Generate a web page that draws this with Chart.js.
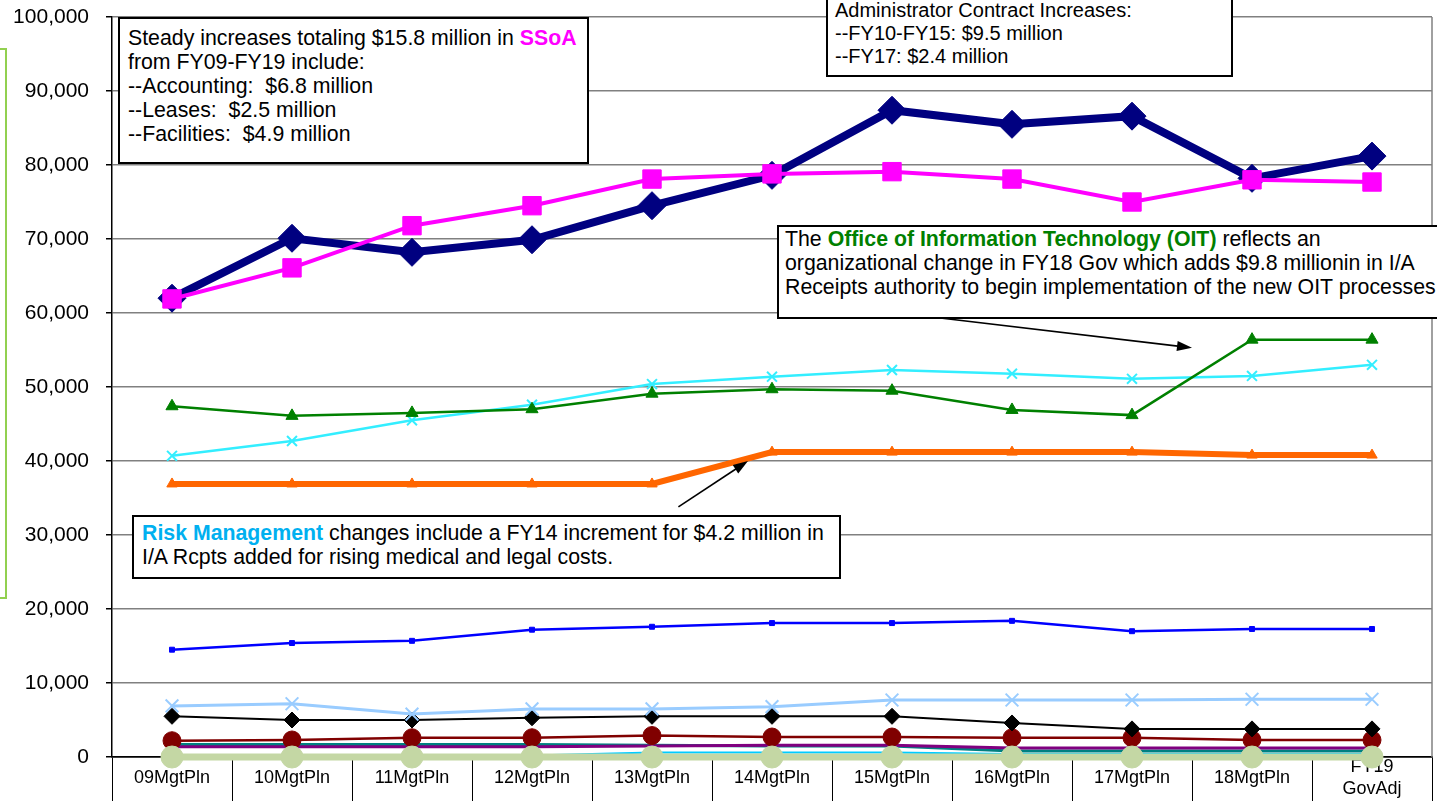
<!DOCTYPE html>
<html>
<head>
<meta charset="utf-8">
<script src="https://cdn.jsdelivr.net/npm/chart.js@4/dist/chart.umd.min.js"></script>
<style>
  html, body { margin: 0; padding: 0; background: #fff; overflow: hidden; }
  #wrap { position: relative; width: 1437px; height: 801px; overflow: hidden; }
  canvas { position: absolute; left: 0; top: 0; }
  .note {
    position: absolute; background: #fff; border: 2px solid #000;
    font-family: "Liberation Sans", Arial, sans-serif; font-size: 21.3px;
    line-height: 24px; color: #000; white-space: nowrap; box-sizing: border-box;
  }
  .side { position: absolute; left: -200px; top: 48px; width: 207px; height: 551px;
    border: 2px solid #92d050; box-sizing: border-box; }
</style>
</head>
<body>
<div id="wrap">
  <canvas id="myChart" width="1437" height="801"></canvas>
  <div class="side"></div>
  <div class="note" style="left:118px; top:17px; width:471px; height:147px; padding:7px 0 0 8px;">
    Steady increases totaling $15.8 million in <b style="color:#ff00ff">SSoA</b><br>
    from FY09-FY19 include:<br>
    --Accounting:&nbsp; $6.8 million<br>
    --Leases:&nbsp; $2.5 million<br>
    --Facilities:&nbsp; $4.9 million
  </div>
  <div class="note" style="left:826px; top:-12px; width:407px; height:89px; padding:9px 0 0 7px; line-height:23px; font-size:20px;">
    Administrator Contract Increases:<br>
    --FY10-FY15: $9.5 million<br>
    --FY17: $2.4 million
  </div>
  <div class="note" style="left:777px; top:225px; width:700px; height:94px; padding:0 0 0 6px;">
    The <b style="color:#008000">Office of Information Technology (OIT)</b> reflects an<br>
    organizational change in FY18 Gov which adds $9.8 millionin in I/A<br>
    Receipts authority to begin implementation of the new OIT processes.
  </div>
  <div class="note" style="left:132px; top:515px; width:709px; height:64px; padding:4px 0 0 8px;">
    <b style="color:#00b0f0">Risk Management</b> changes include a FY14 increment for $4.2 million in<br>
    I/A Rcpts added for rising medical and legal costs.
  </div>
</div>
<script>
const labels = ['09MgtPln', '10MgtPln', '11MgtPln', '12MgtPln', '13MgtPln', '14MgtPln',
    '15MgtPln', '16MgtPln', '17MgtPln', '18MgtPln', ['FY19', 'GovAdj']];

// values in thousands of dollars
const navyVals    = [62000, 70100, 68200, 69900, 74500, 78600, 87400, 85500, 86600, 78200, 81200];
const ssoaVals    = [61900, 66100, 71800, 74500, 78100, 78800, 79100, 78100, 75000, 78000, 77700];
const oitVals     = [47400, 46100, 46500, 47000, 49100, 49700, 49500, 46900, 46200, 56400, 56400];
const cyanXVals   = [40700, 42700, 45500, 47600, 50400, 51400, 52300, 51800, 51100, 51500, 53000];
const riskVals    = [36900, 36900, 36900, 36900, 36900, 41200, 41200, 41200, 41200, 40800, 40800];
const blueVals    = [14500, 15400, 15700, 17200, 17600, 18100, 18100, 18400, 17000, 17300, 17300];
const ltBlueVals  = [6900, 7200, 5800, 6500, 6500, 6800, 7700, 7700, 7700, 7800, 7800];
const blackVals   = [5500, 5000, 5000, 5300, 5500, 5500, 5500, 4600, 3800, 3800, 3800];
const redVals     = [2200, 2300, 2600, 2600, 2900, 2700, 2700, 2600, 2600, 2300, 2300];
const tealVals    = [1700, 1700, 1700, 1700, 1600, 1500, 1500, 800, 800, 800, 800];
const purpleVals  = [1400, 1400, 1400, 1400, 1500, 1600, 1600, 1200, 1200, 1200, 1200];
const ltCyanVals  = [200, 200, 200, 200, 600, 600, 600, 400, 400, 400, 400];
const sageVals    = [0, 0, 0, 0, 0, 0, 0, 0, 0, 0, 0];

function line(data, color, width, style, radius, extra) {
    return Object.assign({
        data: data,
        borderColor: color,
        backgroundColor: color,
        borderWidth: width,
        pointStyle: style,
        pointRadius: radius,
        pointBorderColor: color,
        pointBackgroundColor: color,
        pointBorderWidth: 1,
        tension: 0,
        clip: false,
        fill: false
    }, extra || {});
}

// the arrows from the notes to the lines
const arrowPlugin = {
    id: 'arrows',
    afterDatasetsDraw(chart) {
        const ctx = chart.ctx;
        const x = chart.scales.x, y = chart.scales.y;
        const arrows = [
            [4.22, 33800, 4.8, 40000],
            [6.42, 59300, 8.5, 55300]
        ];
        ctx.save();
        ctx.strokeStyle = '#000';
        ctx.fillStyle = '#000';
        ctx.lineWidth = 1.6;
        arrows.forEach(a => {
            const x1 = x.getPixelForValue(a[0]), y1 = y.getPixelForValue(a[1]);
            const x2 = x.getPixelForValue(a[2]), y2 = y.getPixelForValue(a[3]);
            const ang = Math.atan2(y2 - y1, x2 - x1);
            ctx.beginPath();
            ctx.moveTo(x1, y1);
            ctx.lineTo(x2 - 10 * Math.cos(ang), y2 - 10 * Math.sin(ang));
            ctx.stroke();
            ctx.beginPath();
            ctx.moveTo(x2, y2);
            ctx.lineTo(x2 - 15 * Math.cos(ang) + 5 * Math.sin(ang), y2 - 15 * Math.sin(ang) - 5 * Math.cos(ang));
            ctx.lineTo(x2 - 15 * Math.cos(ang) - 5 * Math.sin(ang), y2 - 15 * Math.sin(ang) + 5 * Math.cos(ang));
            ctx.closePath();
            ctx.fill();
        });
        ctx.restore();
    }
};

// gray frame on the right side of the plot
const framePlugin = {
    id: 'frame',
    beforeDatasetsDraw(chart) {
        const a = chart.chartArea, ctx = chart.ctx;
        ctx.save();
        ctx.strokeStyle = '#808080';
        ctx.lineWidth = 1.5;
        ctx.beginPath();
        ctx.moveTo(a.right, a.top);
        ctx.lineTo(a.right, a.bottom);
        ctx.stroke();
        ctx.restore();
    }
};

new Chart(document.getElementById('myChart').getContext('2d'), {
    type: 'line',
    data: {
        labels: labels,
        datasets: [
            line(sageVals, '#c4d7a4', 7, 'circle', 11),
            line(ssoaVals, '#ff00ff', 4, 'rect', 13),
            line(navyVals, '#000080', 8, 'rectRot', 14),
            line(riskVals, '#ff6600', 6, 'triangle', 6),
            line(oitVals, '#008000', 2.5, 'triangle', 7),
            line(cyanXVals, '#33eeff', 2.5, 'crossRot', 7, {pointBorderWidth: 2}),
            line(blueVals, '#0000ff', 2.5, 'rect', 3.5),
            line(ltBlueVals, '#99ccff', 3, 'crossRot', 9, {pointBorderWidth: 2}),
            line(blackVals, '#000000', 2, 'rectRot', 8),
            line(redVals, '#800000', 2.5, 'circle', 9),
            line(purpleVals, '#800080', 3, 'star', 6, {pointBorderWidth: 1.5}),
            line(tealVals, '#008080', 3, 'rect', 4),
            line(ltCyanVals, '#00ccff', 2, 'circle', 0)
        ]
    },
    options: {
        responsive: false,
        animation: false,
        layout: { autoPadding: false, padding: { top: 17, right: 5, left: 0, bottom: 0 } },
        plugins: { legend: { display: false }, tooltip: { enabled: false } },
        scales: {
            x: {
                offset: true,
                grid: { offset: true, drawOnChartArea: false, tickLength: 44, color: '#000', lineWidth: 1 },
                border: { color: '#000', width: 1.5 },
                ticks: {
                    autoSkip: false, maxRotation: 0, padding: -34, crossAlign: 'center',
                    color: '#000', font: { family: 'Liberation Sans', size: 18 }
                },
                afterFit: s => { s.height = 44; s.paddingLeft = 0; s.paddingRight = 0; }
            },
            y: {
                min: 0,
                max: 100000,
                grid: {
                    color: c => (c.tick && c.tick.value === 0) ? '#000' : '#808080',
                    lineWidth: 1.5, tickLength: 6, tickColor: '#000'
                },
                border: { color: '#000', width: 1.5 },
                ticks: {
                    stepSize: 10000, padding: 17, color: '#000',
                    font: { family: 'Liberation Sans', size: 21 },
                    callback: v => v.toLocaleString('en-US')
                },
                afterFit: s => { s.width = 112; s.paddingTop = 0; s.paddingBottom = 0; }
            }
        }
    },
    plugins: [framePlugin, arrowPlugin]
});
</script>
</body>
</html>
